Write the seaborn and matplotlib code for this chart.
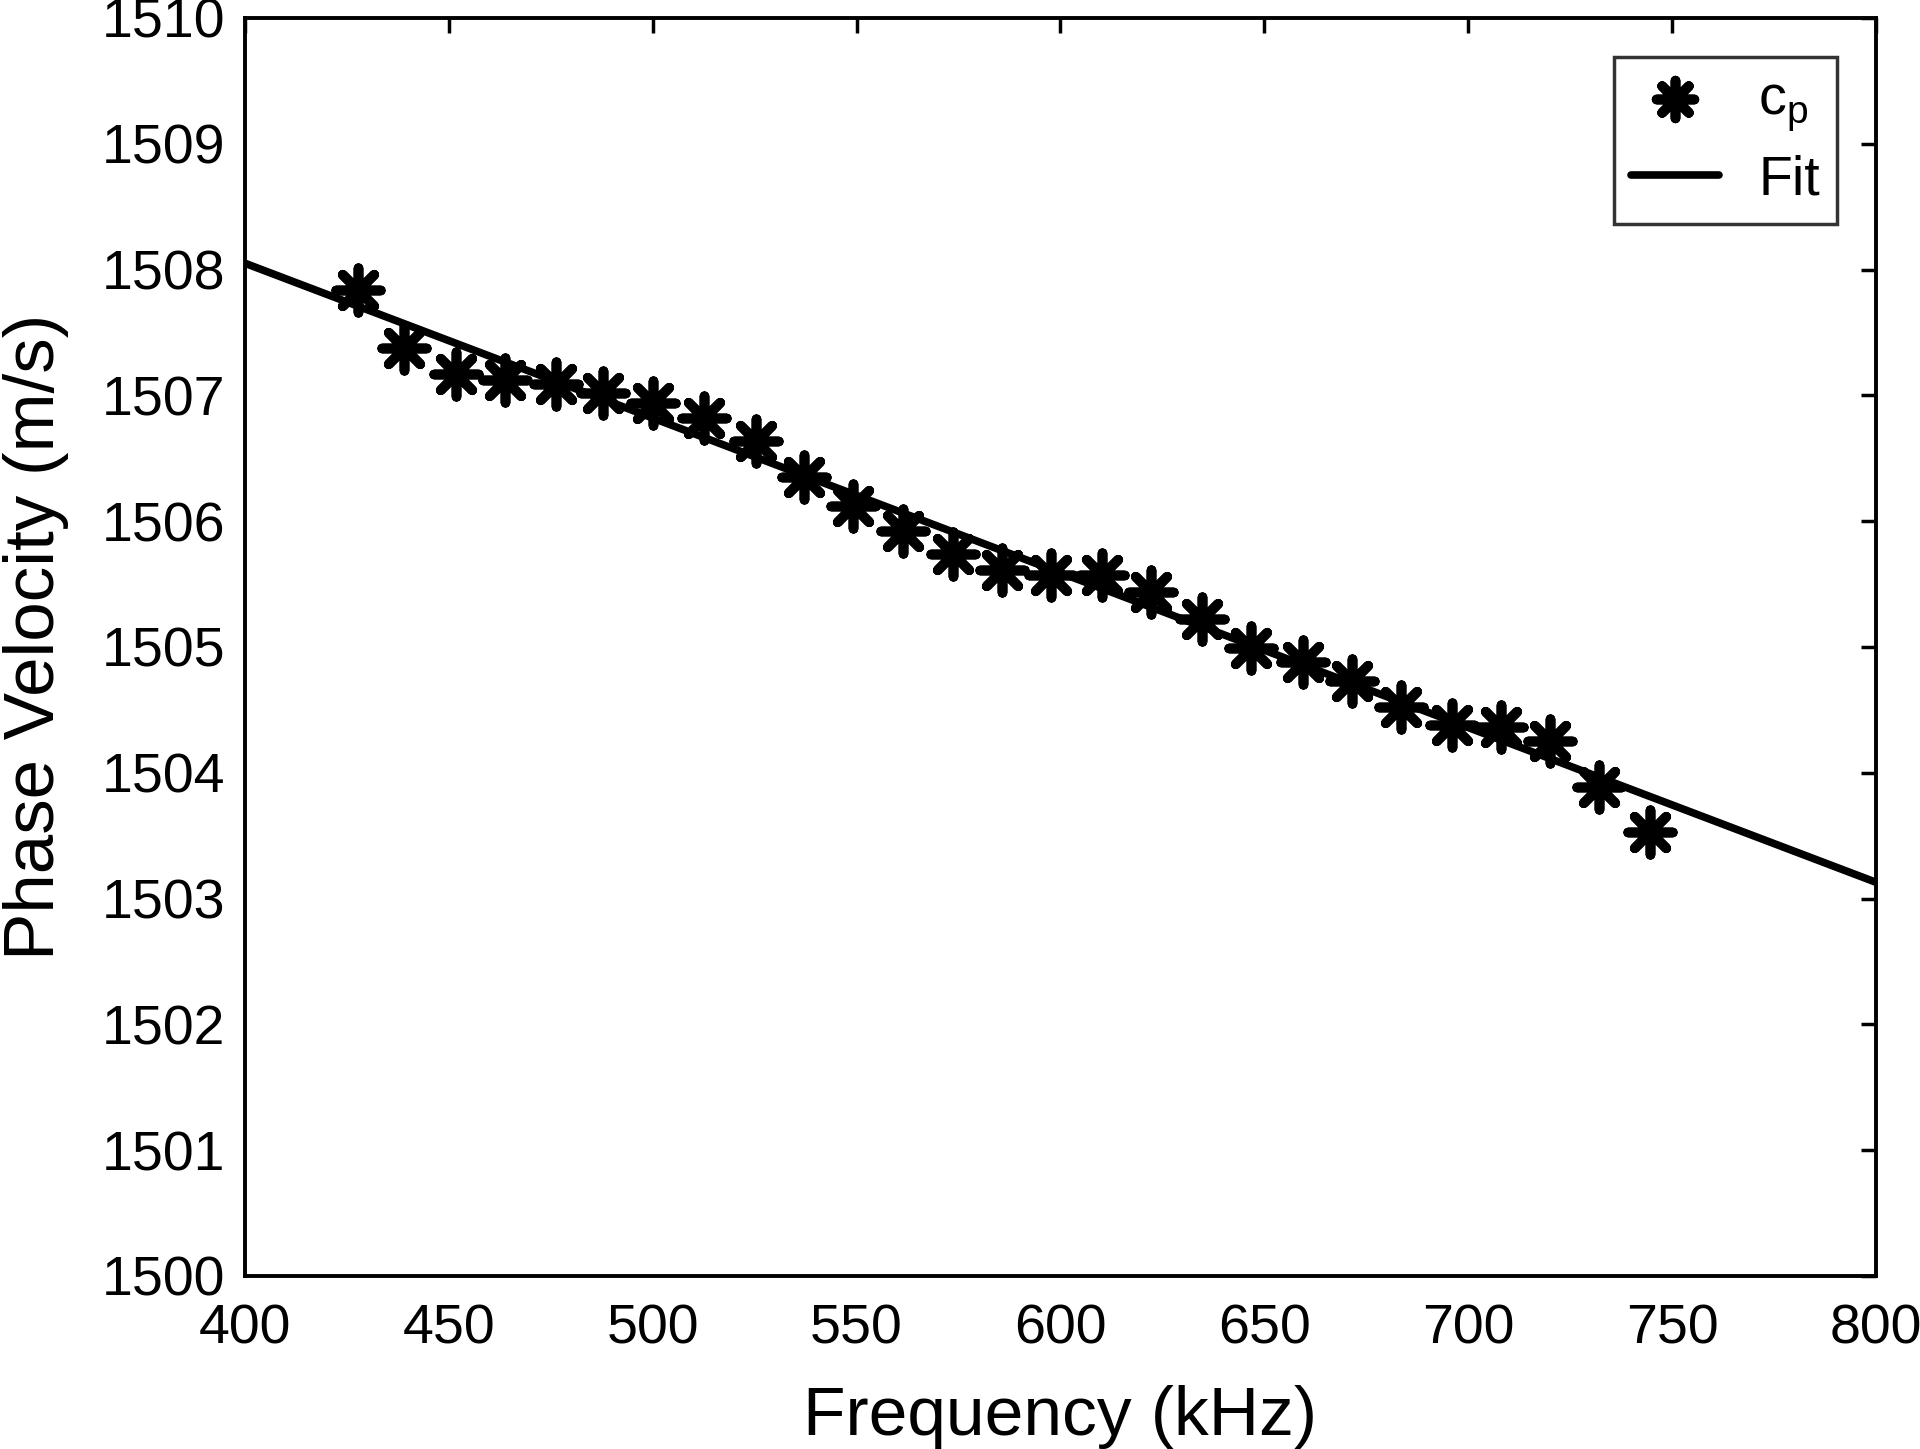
import numpy as np
import pandas as pd
import matplotlib
matplotlib.use("Agg")
import matplotlib.pyplot as plt
import seaborn as sns

# Dados
freq_khz = [427.6, 439.0, 451.7, 463.7, 476.3, 487.7, 500.0, 512.6, 525.3,
            537.2, 549.2, 561.3, 573.6, 585.6, 597.6, 610.2, 622.2, 634.8,
            646.8, 659.5, 671.5, 683.5, 696.1, 708.1, 720.1, 732.1, 744.7]
fase_vel = [1507.84, 1507.38, 1507.17, 1507.12, 1507.09, 1507.02, 1506.94,
            1506.82, 1506.64, 1506.35, 1506.12, 1505.92, 1505.74, 1505.61,
            1505.57, 1505.57, 1505.44, 1505.22, 1504.99, 1504.88, 1504.73,
            1504.52, 1504.38, 1504.36, 1504.25, 1503.89, 1503.53]
fit_freq = [400, 800]
fit_vel = [1508.05, 1503.13]

sns.set_theme(style="white")
plt.rcParams["font.family"] = ["Liberation Sans", "DejaVu Sans"]
plt.rcParams["mathtext.fontset"] = "custom"
plt.rcParams["mathtext.rm"] = "Liberation Sans"
plt.rcParams["text.color"] = "black"
plt.rcParams["axes.labelcolor"] = "black"

fig = plt.figure(figsize=(19.2, 14.49), dpi=100)
ax = fig.add_axes([0.1276, 0.1194, 0.977 - 0.1276, 0.9876 - 0.1194])

pontos = pd.DataFrame({"f": freq_khz, "c": fase_vel})
ajuste = pd.DataFrame({"f": fit_freq, "c": fit_vel})

sns.scatterplot(data=pontos, x="f", y="c", ax=ax, marker=(8, 2, 0),
                s=32**2, color="black", linewidth=7, label=r"c$_{\mathregular{p}}$",
                zorder=3)
sns.lineplot(data=ajuste, x="f", y="c", ax=ax, color="black", linewidth=5.5,
             label="Fit", zorder=2)

ax.set_xlim(400, 800)
ax.set_ylim(1500, 1510)
ax.set_xticks(np.arange(400, 801, 50))
ax.set_yticks(np.arange(1500, 1511, 1))

ax.tick_params(direction="in", length=11, width=2.5, labelsize=40,
               top=True, right=True, colors="black")
ax.tick_params(axis="y", pad=14)
ax.tick_params(axis="x", pad=20)
for s in ax.spines.values():
    s.set_linewidth(2.8)
    s.set_color("black")

ax.set_xlabel("Frequency (kHz)", fontsize=50)
ax.set_ylabel("Phase Velocity (m/s)", fontsize=51)
ax.xaxis.set_label_coords(0.5, -0.087)
ax.yaxis.set_label_coords(-0.108, 0.508)

leg = ax.legend(loc="upper right", fontsize=40, frameon=True, fancybox=False,
                edgecolor="black", borderpad=0.3, handlelength=1.6,
                handletextpad=0.7, borderaxespad=0, bbox_to_anchor=(0.976, 0.969),
                markerscale=0.85, labelspacing=0.4)
leg.get_frame().set_linewidth(2.5)

plt.savefig("out.png", dpi=100)
plt.close()
